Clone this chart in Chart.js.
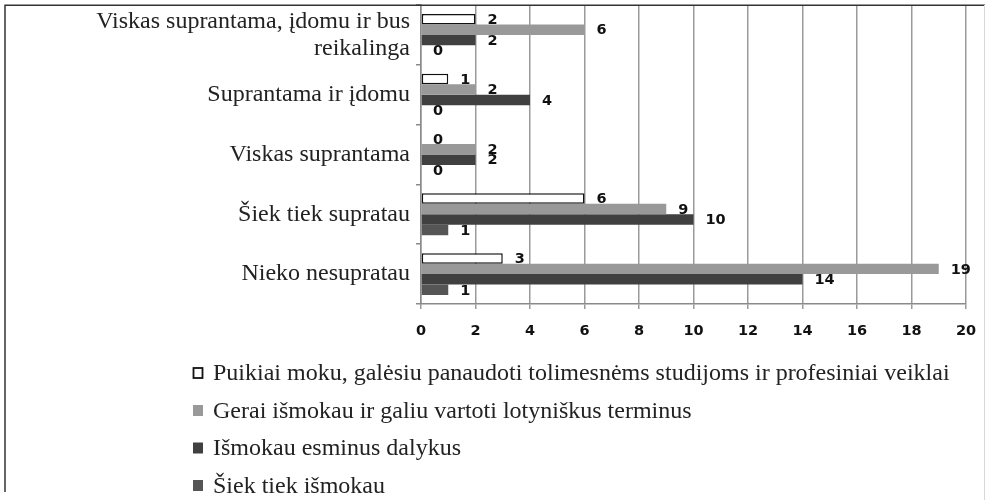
<!DOCTYPE html>
<html><head><meta charset="utf-8">
<script src="https://cdn.jsdelivr.net/npm/chart.js@4"></script>
<style>html,body{margin:0;padding:0;background:#fff}#wrap{position:relative;width:985px;height:502px}</style>
</head><body><div id="wrap"><canvas id="c"></canvas></div>
<script>
// ---- data ----
const categories = [["Viskas suprantama, įdomu ir bus", "reikalinga"], "Suprantama ir įdomu", "Viskas suprantama", "Šiek tiek supratau", "Nieko nesupratau"];
const seriesNames = ["Puikiai moku, galėsiu panaudoti tolimesnėms studijoms ir profesiniai veiklai", "Gerai išmokau ir galiu vartoti lotyniškus terminus", "Išmokau esminus dalykus", "Šiek tiek išmokau"];
const puikiai = [2, 1, 0, 6, 3];
const gerai = [6, 2, 2, 9, 19];
const esminius = [2, 4, 2, 10, 14];
const siekTiek = [0, 0, 0, 1, 1];
const xMin = 0, xMax = 20, xStep = 2;

// ---- styles ----
const fills = ['#ffffff', '#999999', '#404040', '#555555'];
const borders = ['#111111', '#999999', '#404040', '#555555'];
const borderWidths = [1.5, 0, 0, 0];
const seriesValues = [puikiai, gerai, esminius, siekTiek];

const serif = "'Liberation Serif', 'Times New Roman', serif";
const sans = "'DejaVu Sans', Verdana, sans-serif";

const valueLabels = {
  id: 'valueLabels',
  afterDatasetsDraw(chart) {
    const ctx = chart.ctx;
    ctx.save();
    ctx.font = "bold 14.5px " + sans;
    ctx.fillStyle = '#111';
    ctx.textAlign = 'left';
    ctx.textBaseline = 'middle';
    chart.data.datasets.forEach((ds, i) => {
      const meta = chart.getDatasetMeta(i);
      meta.data.forEach((el, j) => {
        ctx.fillText(String(ds.data[j]), el.x + 12, el.y + 1);
      });
    });
    ctx.restore();
  }
};

const frameAndLegend = {
  id: 'frameAndLegend',
  afterDraw(chart) {
    const ctx = chart.ctx;
    ctx.save();
    // frame
    ctx.strokeStyle = '#333';
    ctx.lineWidth = 1.5;
    ctx.beginPath();
    ctx.moveTo(5, 492); ctx.lineTo(5, 5.25); ctx.lineTo(985, 5.25);
    ctx.stroke();
    ctx.strokeStyle = '#d8d8d8';
    ctx.lineWidth = 1;
    ctx.beginPath();
    ctx.moveTo(984.5, 5); ctx.lineTo(984.5, 500);
    ctx.stroke();
    // legend
    const rowY = [373, 410.5, 448, 485.5];
    ctx.font = "24px " + serif;
    ctx.textBaseline = 'middle';
    ctx.textAlign = 'left';
    chart.data.datasets.forEach((ds, i) => {
      const y = rowY[i];
      ctx.fillStyle = ds.backgroundColor;
      ctx.fillRect(193, y - 5.5, 10, 11);
      if (ds.borderWidth) {
        ctx.strokeStyle = '#111';
        ctx.lineWidth = 1.8;
        ctx.strokeRect(193.5, y - 5, 9, 10);
      }
      ctx.fillStyle = '#222';
      ctx.fillText(ds.label, 213, y + 1);
    });
    ctx.restore();
  }
};

new Chart(document.getElementById('c'), {
  type: 'bar',
  data: {
    labels: categories,
    datasets: seriesValues.map((vals, i) => ({
      label: seriesNames[i],
      data: vals,
      backgroundColor: fills[i],
      borderColor: borders[i],
      borderWidth: borderWidths[i],
      borderSkipped: false,
      categoryPercentage: 0.7,
      barPercentage: 1.0
    }))
  },
  options: {
    indexAxis: 'y',
    responsive: true,
    maintainAspectRatio: false,
    animation: false,
    layout: { padding: { left: 0, right: 19, top: 5, bottom: 158 } },
    plugins: { legend: { display: false }, tooltip: { enabled: false } },
    scales: {
      x: {
        min: xMin, max: xMax,
        ticks: { stepSize: xStep, color: '#111', padding: 14, font: { family: sans, size: 14.5, weight: 'bold' } },
        grid: { color: '#9a9a9a', lineWidth: 1.5, tickLength: 5, drawTicks: true },
        border: { color: '#8a8a8a', width: 1.5 },
        afterFit(scale) { scale.height = 40; scale.paddingLeft = 0; scale.paddingRight = 0; }
      },
      y: {
        ticks: { color: '#222', padding: 6, font: { family: serif, size: 24, lineHeight: 1.12 } },
        grid: { drawOnChartArea: false, drawTicks: true, tickLength: 5, color: '#8a8a8a', lineWidth: 1.5 },
        border: { color: '#8a8a8a', width: 1.5 },
        afterFit(scale) { scale.width = 421; scale.paddingTop = 0; scale.paddingBottom = 0; }
      }
    }
  },
  plugins: [valueLabels, frameAndLegend]
});
</script>
</body></html>
